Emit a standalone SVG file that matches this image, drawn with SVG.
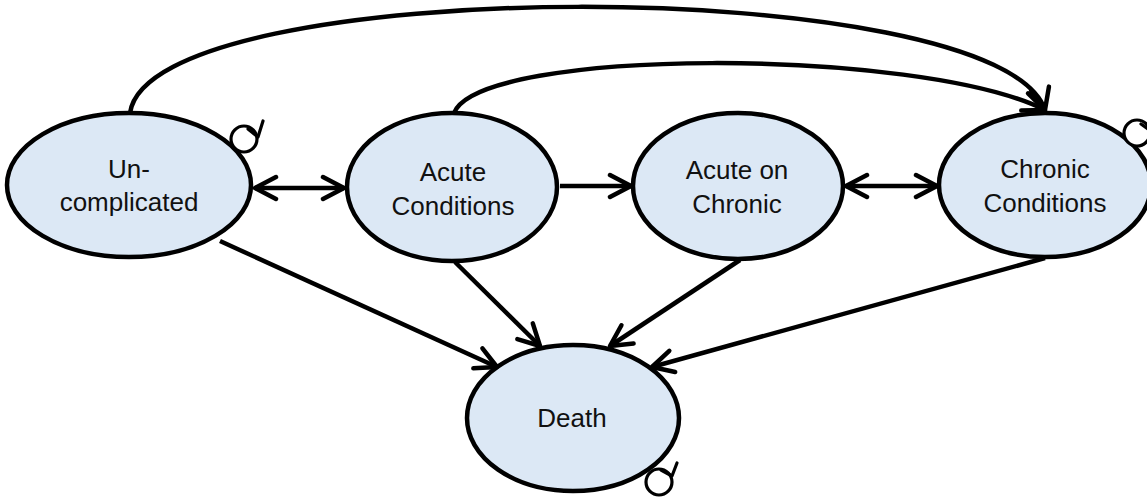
<svg xmlns="http://www.w3.org/2000/svg" width="1147" height="498" viewBox="0 0 1147 498">
<style>
.node{fill:#dce8f5;stroke:#000;stroke-width:4.5}
.lbl{font-family:"Liberation Sans",Arial,sans-serif;font-size:26px;fill:#111;text-anchor:middle}
.edge{fill:none;stroke:#000;stroke-width:4.5}
.loop{fill:#fff;stroke:#000;stroke-width:3.2}
.loophead{fill:none;stroke:#000;stroke-width:3.2;stroke-linecap:round;stroke-linejoin:round}
</style>
<defs>
<marker id="ah" viewBox="-26 -14 30 28" refX="0" refY="0" markerWidth="30" markerHeight="28" markerUnits="userSpaceOnUse" orient="auto-start-reverse">
<path d="M-21,-11 L0,0 L-21,11" fill="none" stroke="#000" stroke-width="4.5" stroke-linecap="round" stroke-linejoin="round"/>
</marker>
</defs>
<rect width="1147" height="498" fill="#fff"/>
<g id="node-uncomplicated">
<ellipse class="node" cx="129" cy="185" rx="122" ry="72"/>
<text class="lbl" x="129" y="178">Un-</text>
<text class="lbl" x="129" y="211">complicated</text>
</g>
<g id="node-acute">
<ellipse class="node" cx="452" cy="187" rx="105" ry="74"/>
<text class="lbl" x="453" y="181">Acute</text>
<text class="lbl" x="453" y="215">Conditions</text>
</g>
<g id="node-acute-on-chronic">
<ellipse class="node" cx="738" cy="186" rx="105" ry="73"/>
<text class="lbl" x="737" y="179">Acute on</text>
<text class="lbl" x="737" y="213">Chronic</text>
</g>
<g id="node-chronic">
<ellipse class="node" cx="1045" cy="185" rx="106" ry="72"/>
<text class="lbl" x="1045" y="178">Chronic</text>
<text class="lbl" x="1045" y="212">Conditions</text>
</g>
<g id="node-death">
<ellipse class="node" cx="573" cy="418" rx="106" ry="73"/>
<text class="lbl" x="572" y="427">Death</text>
</g>
<g id="connectors">
<path class="edge" d="M130,113 C150,-28 1000,-28 1045,110" marker-end="url(#ah)"/>
<path class="edge" d="M454,113 C480,47 919,47 1045,110" marker-end="url(#ah)"/>
<line class="edge" x1="255" y1="188" x2="344" y2="188" marker-start="url(#ah)" marker-end="url(#ah)"/>
<line class="edge" x1="560" y1="186" x2="631" y2="186" marker-end="url(#ah)"/>
<line class="edge" x1="846" y1="186" x2="937" y2="186" marker-start="url(#ah)" marker-end="url(#ah)"/>
<line class="edge" x1="220" y1="241" x2="497" y2="367" marker-end="url(#ah)"/>
<line class="edge" x1="455" y1="262" x2="540" y2="346" marker-end="url(#ah)"/>
<line class="edge" x1="740" y1="260" x2="610" y2="346" marker-end="url(#ah)"/>
<line class="edge" x1="1045" y1="258" x2="652" y2="367" marker-end="url(#ah)"/>
<circle class="loop" cx="244" cy="139" r="13"/>
<path class="loophead" d="M263,121 L258,137 L248,129"/>
<circle class="loop" cx="659" cy="482" r="13"/>
<path class="loophead" d="M677,463 L672,476 L661,470"/>
<circle class="loop" cx="1137" cy="133" r="13"/>
<path class="loophead" d="M1156,115 L1151,131 L1141,124"/>
</g>
</svg>
